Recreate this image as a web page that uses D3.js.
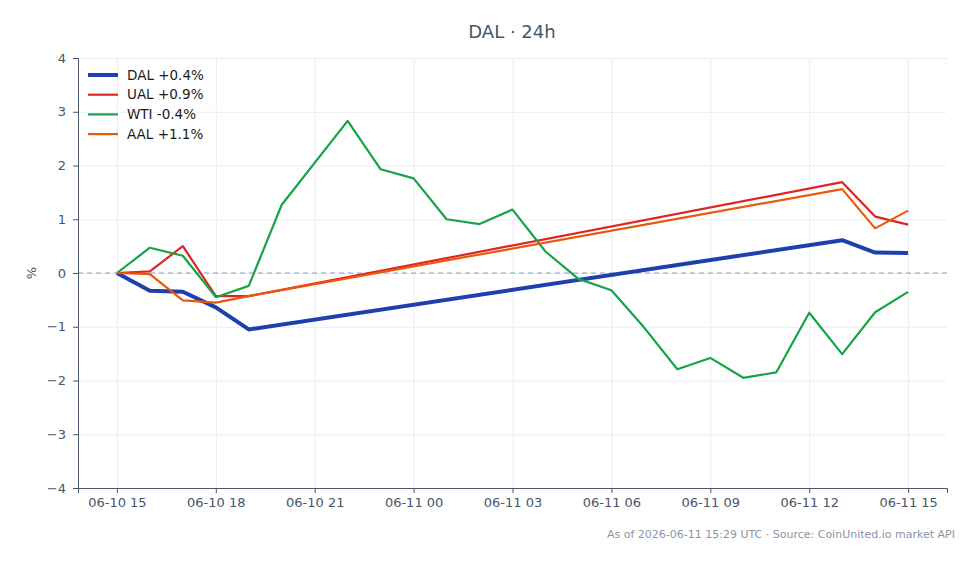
<!DOCTYPE html>
<html>
<head>
<meta charset="utf-8">
<script src="https://cdn.jsdelivr.net/npm/d3@7"></script>
<style>
  body { margin: 0; background: #fff; }
  svg { font-family: "DejaVu Sans", sans-serif; }
  .grid line { stroke: #e9edf2; }
  .grid .domain { display: none; }
  .axis text { fill: #4a5568; font-size: 13px; font-family: "DejaVu Sans", sans-serif; }
  .axis line, .axis path { stroke: #4a5568; }
</style>
</head>
<body>
<div id="chart"></div>
<script>
// hourly timestamps, 06-10 15:00 .. 06-11 15:00 (UTC)
var hours = d3.range(0, 25).map(function(h){ return new Date(Date.UTC(2026, 5, 10, 15 + h)); });

// % change vs start, [hour index, value]
var dal = [[0, 0], [1, -0.33], [2, -0.35], [3, -0.64], [4, -1.05], [22, 0.61], [23, 0.38], [24, 0.37]];
var ual = [[0, 0], [1, 0.03], [2, 0.50], [3, -0.43], [4, -0.43], [22, 1.69], [23, 1.05], [24, 0.90]];
var wti = [[0, 0], [1, 0.47], [2, 0.32], [3, -0.45], [4, -0.24], [5, 1.27], [7, 2.83], [8, 1.93],
           [9, 1.76], [10, 1.00], [11, 0.91], [12, 1.18], [13, 0.40], [14, -0.11], [15, -0.32],
           [16, -1.02], [17, -1.79], [18, -1.58], [19, -1.95], [20, -1.85], [21, -0.74],
           [22, -1.51], [23, -0.73], [24, -0.35]];
var aal = [[0, 0], [1, -0.02], [2, -0.51], [3, -0.55], [4, -0.43], [22, 1.56], [23, 0.83], [24, 1.16]];

var seriesNames = ["DAL +0.4%", "UAL +0.9%", "WTI -0.4%", "AAL +1.1%"];
var seriesData = [dal, ual, wti, aal];
var colors = ["#1e40af", "#dc2626", "#16a34a", "#ea580c"];
var widths = [4, 2.2, 2.2, 2.2];

var yTicks = [-4, -3, -2, -1, 0, 1, 2, 3, 4];

var W = 979, H = 564;
var margin = {top: 58, right: 32, bottom: 76, left: 78};
var width = W - margin.left - margin.right,
    height = H - margin.top - margin.bottom;

var svg = d3.select("#chart").append("svg")
    .attr("width", W)
    .attr("height", H);

var g = svg.append("g")
    .attr("transform", "translate(" + margin.left + "," + margin.top + ")");

var hr = 3600 * 1000;
var x = d3.scaleTime()
    .domain([new Date(+hours[0] - 1.18 * hr), new Date(+hours[24] + 1.18 * hr)])
    .range([0, width]);

var y = d3.scaleLinear()
    .domain([-4, 4])
    .range([height, 0]);

var xTickVals = hours.filter(function(d, i){ return i % 3 === 0; });
var fmt = d3.utcFormat("%m-%d %H");

// gridlines
g.append("g").attr("class", "grid")
  .call(d3.axisLeft(y).tickValues(yTicks).tickSize(-width).tickFormat(""));
g.append("g").attr("class", "grid")
  .attr("transform", "translate(0," + height + ")")
  .call(d3.axisBottom(x).tickValues(xTickVals).tickSize(-height).tickFormat(""));

// zero line
g.append("line")
  .attr("x1", 0).attr("x2", width)
  .attr("y1", y(0)).attr("y2", y(0))
  .attr("stroke", "#8b9dc3")
  .attr("stroke-width", 1)
  .attr("stroke-dasharray", "5,4");

// axes
g.append("g").attr("class", "axis")
  .attr("transform", "translate(0," + height + ")")
  .call(d3.axisBottom(x).tickValues(xTickVals).tickFormat(fmt).tickSizeOuter(0).tickSize(5).tickPadding(5));

g.append("g").attr("class", "axis")
  .call(d3.axisLeft(y).tickValues(yTicks).tickFormat(d3.format("")).tickSizeOuter(0).tickSize(5).tickPadding(7));

g.append("text")
  .attr("transform", "rotate(-90)")
  .attr("x", -y(0))
  .attr("y", -42)
  .attr("text-anchor", "middle")
  .attr("fill", "#4a5568")
  .attr("font-size", 13)
  .text("%");

// lines
var line = d3.line()
  .x(function(d){ return x(hours[d[0]]); })
  .y(function(d){ return y(d[1]); });

seriesData.forEach(function(s, i){
  g.append("path")
    .datum(s)
    .attr("fill", "none")
    .attr("stroke", colors[i])
    .attr("stroke-width", widths[i])
    .attr("stroke-linejoin", "round")
    .attr("d", line);
});

// legend
var legend = g.append("g").attr("transform", "translate(10,17)");
seriesNames.forEach(function(name, i){
  var row = legend.append("g").attr("transform", "translate(0," + (i * 19.7) + ")");
  row.append("line")
    .attr("x1", 0).attr("x2", 30)
    .attr("stroke", colors[i])
    .attr("stroke-width", widths[i]);
  row.append("text")
    .attr("x", 39).attr("dy", "0.35em")
    .attr("font-size", 13.5)
    .attr("fill", "#1a1a1a")
    .text(name);
});

// title
svg.append("text")
  .attr("x", 512).attr("y", 38)
  .attr("text-anchor", "middle")
  .attr("font-size", 18)
  .attr("fill", "#4a5568")
  .text("DAL · 24h");

// footer
svg.append("text")
  .attr("x", 955).attr("y", 538)
  .attr("text-anchor", "end")
  .attr("font-size", 11)
  .attr("fill", "#8a94a6")
  .text("As of 2026-06-11 15:29 UTC · Source: CoinUnited.io market API");
</script>
</body>
</html>
